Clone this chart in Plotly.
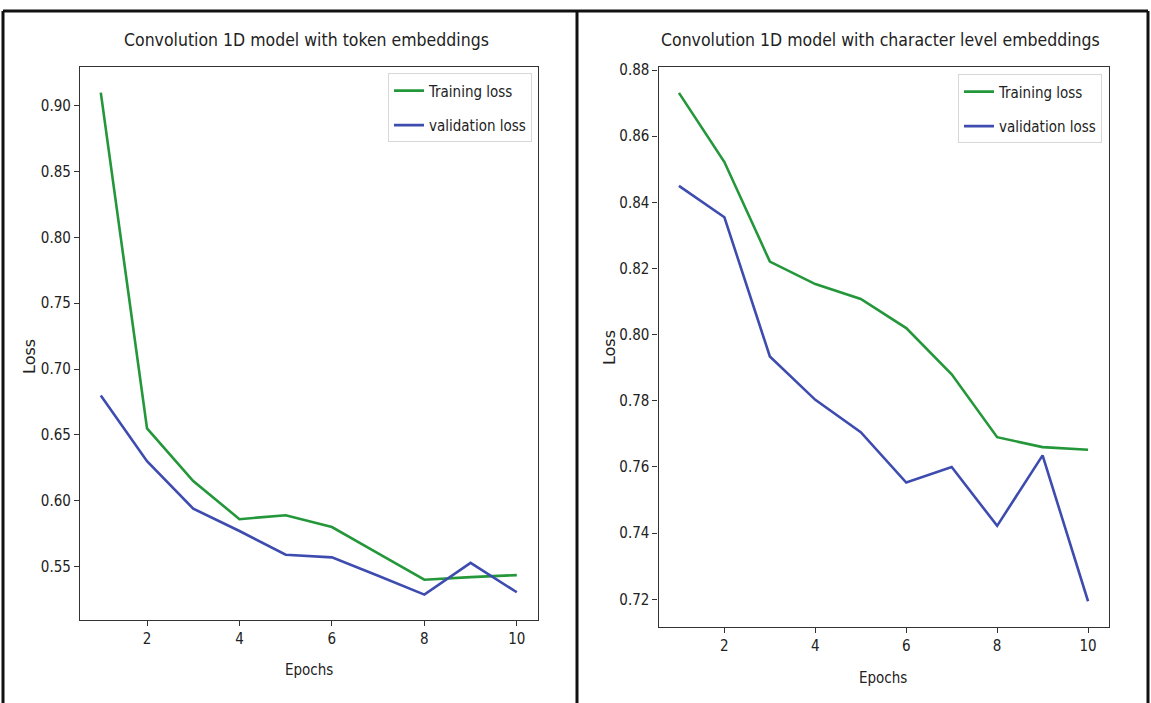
import plotly.graph_objects as go

# ---- data ----
epochs = [1, 2, 3, 4, 5, 6, 7, 8, 9, 10]
token_train = [0.910, 0.655, 0.615, 0.586, 0.589, 0.580, 0.560, 0.540, 0.542, 0.5435]
token_val = [0.680, 0.630, 0.594, 0.577, 0.559, 0.557, 0.543, 0.5287, 0.5528, 0.5305]
char_train = [0.8731, 0.8522, 0.8221, 0.8153, 0.8108, 0.8020, 0.7880, 0.7690, 0.7660, 0.7652]
char_val = [0.8450, 0.8355, 0.7934, 0.7803, 0.7705, 0.7553, 0.7600, 0.7422, 0.7635, 0.7194]
titles = ["Convolution 1D model with token embeddings",
          "Convolution 1D model with character level embeddings"]
series_names = ["Training loss", "validation loss"]
left_yticks = [0.55, 0.60, 0.65, 0.70, 0.75, 0.80, 0.85, 0.90]
right_yticks = [0.72, 0.74, 0.76, 0.78, 0.80, 0.82, 0.84, 0.86, 0.88]
xticks = [2, 4, 6, 8, 10]

W, H = 1151, 703
GREEN = "#23973a"
BLUE = "#3e4cb0"
FONT = "DejaVu Sans Condensed, DejaVu Sans, sans-serif"
TXT = "#222222"


def px(x):
    return x / W


def py(y):
    return 1 - y / H


fig = go.Figure()
specs = [
    (token_train, series_names[0], GREEN, "x", "y", "legend", "a1"),
    (token_val, series_names[1], BLUE, "x", "y", "legend", "a2"),
    (char_train, series_names[0], GREEN, "x2", "y2", "legend2", "b1"),
    (char_val, series_names[1], BLUE, "x2", "y2", "legend2", "b2"),
]
for vals, name, col, xa, ya, lg, grp in specs:
    fig.add_trace(go.Scatter(x=epochs, y=vals, mode="lines", name=name,
                             line=dict(color=col, width=2.6), xaxis=xa, yaxis=ya,
                             legend=lg, legendgroup=grp))


def ax(domain, rng, tickvals, fmt, anchor):
    return dict(domain=domain, range=rng, tickvals=tickvals, tickformat=fmt,
                showgrid=False, zeroline=False, showline=True, linecolor="#333333",
                linewidth=1.2, mirror=True, ticks="outside", ticklen=5, tickwidth=1,
                tickcolor="#333333", tickfont=dict(family=FONT, size=15, color=TXT),
                anchor=anchor)


ymin_l, ymax_l = min(token_train + token_val), max(token_train + token_val)
pad_l = 0.05 * (ymax_l - ymin_l)
ymin_r, ymax_r = min(char_train + char_val), max(char_train + char_val)
pad_r = 0.05 * (ymax_r - ymin_r)

legend_common = dict(xanchor="right", yanchor="top", bgcolor="rgba(255,255,255,0.9)",
                     bordercolor="#d8d8d8", borderwidth=1,
                     font=dict(family=FONT, size=15, color=TXT), itemwidth=30,
                     traceorder="grouped", tracegroupgap=12)

fig.update_layout(
    width=W, height=H, margin=dict(l=0, r=0, t=0, b=0),
    paper_bgcolor="white", plot_bgcolor="white",
    xaxis=ax([px(80), px(537.6)], [0.55, 10.45], xticks, "d", "y"),
    yaxis=ax([py(619), py(62)], [ymin_l - pad_l, ymax_l + pad_l], left_yticks, ".2f", "x"),
    xaxis2=ax([px(658.5), px(1108.5)], [0.55, 10.45], xticks, "d", "y2"),
    yaxis2=ax([py(626), py(62)], [ymin_r - pad_r, ymax_r + pad_r], right_yticks, ".2f", "x2"),
    legend=dict(x=px(532), y=py(68), **legend_common),
    legend2=dict(x=px(1102), y=py(69), **legend_common),
    showlegend=True,
)


def label(text, x, y, size, family=FONT, angle=0):
    return dict(text=text, x=px(x), y=py(y), xref="paper", yref="paper",
                xanchor="center", yanchor="middle", textangle=angle,
                showarrow=False, font=dict(family=family, size=size, color=TXT))


ann = [
    label(titles[0], 306, 34, 17.5),
    label(titles[1], 880, 34, 17.5),
    label("Epochs", 309, 670, 15),
    label("Epochs", 883, 678, 15),
    label("Loss", 30, 353, 16, "DejaVu Sans, sans-serif", -90),
    label("Loss", 609, 345, 16, "DejaVu Sans, sans-serif", -90),
]
fig.update_layout(annotations=ann)

frame = dict(color="#111111", width=3)
shapes = [
    dict(type="line", xref="paper", yref="paper", x0=px(3), y0=py(5), x1=px(1148), y1=py(5), line=frame),
    dict(type="line", xref="paper", yref="paper", x0=px(3), y0=py(5), x1=px(3), y1=0, line=frame),
    dict(type="line", xref="paper", yref="paper", x0=px(577), y0=py(5), x1=px(577), y1=0, line=frame),
    dict(type="line", xref="paper", yref="paper", x0=px(1148), y0=py(5), x1=px(1148), y1=0, line=frame),
]
fig.update_layout(shapes=shapes)

fig.write_html("out.html", config={"displayModeBar": False},
               post_script="document.body.style.margin='0';document.body.style.overflow='hidden';")
